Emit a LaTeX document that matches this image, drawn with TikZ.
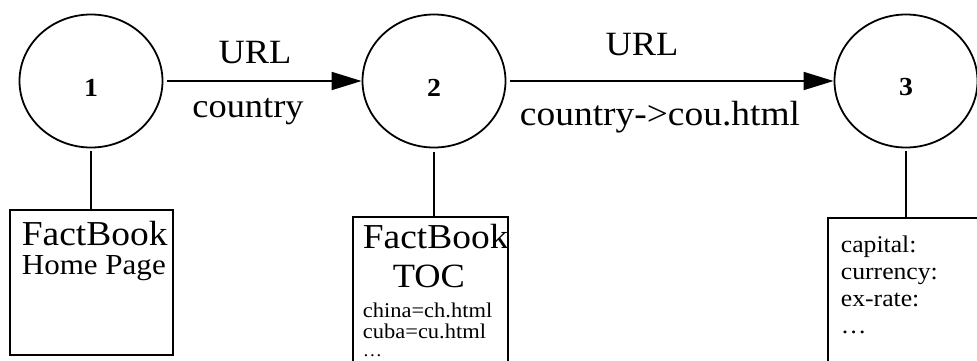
\documentclass[tikz,border=0pt]{standalone}
\usepackage{fontspec}
\setmainfont[FakeStretch=1.07]{Liberation Serif}
\usetikzlibrary{shapes.geometric,arrows.meta}
\newcommand\fsz[1]{\fontsize{#1}{#1}\selectfont}
\begin{document}
\begin{tikzpicture}[x=1pt, y=-1pt, line width=1.8pt,
  page/.style={ellipse, draw, inner sep=0pt, minimum width=143pt, minimum height=133pt, text height=30pt},
  doc/.style={rectangle, draw, inner sep=0pt},
  link/.style={-{Triangle[length=30pt, width=18pt]}, shorten <=4pt},
  txt/.style={anchor=base west, inner sep=0pt},
  lbl/.style={anchor=base, inner sep=0pt}]
\clip[use as bounding box] (0,0) rectangle (977,360);
% pages
\node[page] (c1) at (91,81) {\fsz{26}\bfseries 1};
\node[page] (c2) at (434,81) {\fsz{26}\bfseries 2};
\node[page] (c3) at (906,81) {\fsz{26}\bfseries 3};
\node[doc, minimum width=163pt, minimum height=145pt] (b1) at (91.5,282.5) {};
\node[doc, minimum width=155pt, minimum height=200pt] (b2) at (430.5,317) {};
\node[doc, minimum width=180pt, minimum height=200pt] (b3) at (918,318) {};
\draw[shorten <=3pt] (c1.south) -- (c1.south |- b1.north);
\draw[shorten <=4pt] (c2.south) -- (c2.south |- b2.north);
\draw[shorten <=3pt] (c3.south) -- (c3.south |- b3.north);
% links
\draw[link] (c1.east) -- (c2.west);
\draw[link] (c2.east) -- (c3.west);
\node[lbl, font=\fsz{34}] (url1) at (255,63) {URL}; \node[lbl, font=\fsz{34}] (cty1) at (248,117) {country};
\node[lbl, font=\fsz{34}] (url2) at (642,55) {URL}; \node[lbl, font=\fsz{35}] (cty2) at (660,125) {country->cou.html};
% page contents
\node[txt, font=\fsz{35}] (fb1) at (21,245) {FactBook}; \node[txt, font=\fsz{29}] (home) at (21,274) {Home Page};
\node[txt, font=\fsz{35}] (fb2) at (362,248) {FactBook}; \node[txt, font=\fsz{34}] (toc) at (392,287) {TOC};
\node[txt, font=\fsz{21}] (china) at (362,317) {china=ch.html}; \node[txt, font=\fsz{21}] (cuba) at (362,338) {cuba=cu.html};
\node[txt, font=\fsz{18}] (more2) at (362,356) {\dots};
\foreach \fld [count=\i] in {capital:, currency:, ex-rate:, \dots}
  \node[txt, font=\fsz{24}] (fld\i) at (840,225+27*\i) {\fld};
\end{tikzpicture}
\end{document}
